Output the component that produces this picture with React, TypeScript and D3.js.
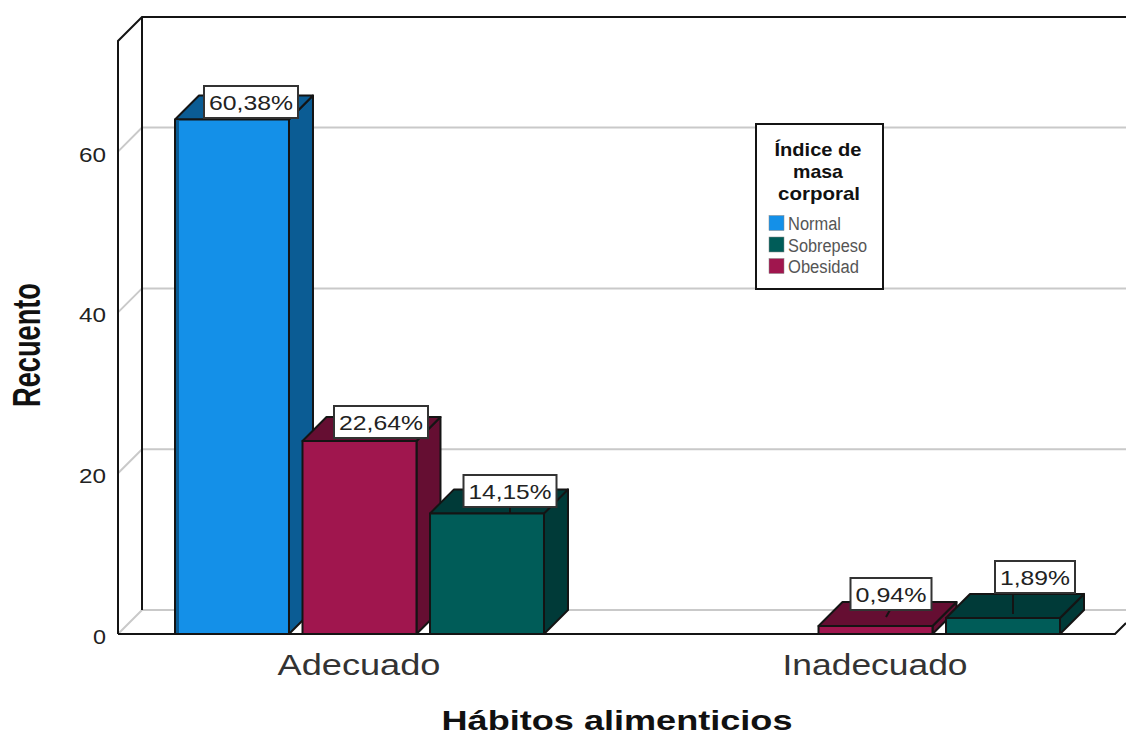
import React from "react";
import * as d3 from "d3";

const categories = ["Adecuado", "Inadecuado"];
const seriesOrder = ["Normal", "Obesidad", "Sobrepeso"];
const legendOrder = ["Normal", "Sobrepeso", "Obesidad"];
const adecuadoCounts = [64, 24, 15];
const inadecuadoCounts = [0, 1, 2];
const adecuadoLabels = ["60,38%", "22,64%", "14,15%"];
const inadecuadoLabels = ["", "0,94%", "1,89%"];
const yTicks = [0, 20, 40, 60];

const WIDTH = 1126;
const HEIGHT = 736;
const FLOOR_Y = 634;
const DEPTH = 24;
const LEFT = 118;
const TOP_BACK = 17;

const palette: Record<string, { front: string; dark: string }> = {
  Normal: { front: "#1490e8", dark: "#0b5c94" },
  Obesidad: { front: "#a0164e", dark: "#650e32" },
  Sobrepeso: { front: "#005c58", dark: "#003a38" },
};

// Value labels sit where they were dragged to, so each has its own anchor
// (box centre and top edge) and the point its leader line runs to.
const labelLayout: Record<string, { cx: number; top: number; w: number; leader?: [number, number, number, number] }> = {
  "60,38%": { cx: 251, top: 86, w: 94 },
  "22,64%": { cx: 381, top: 406, w: 94 },
  "14,15%": { cx: 510, top: 475, w: 93, leader: [510, 507, 510, 513] },
  "0,94%": { cx: 891, top: 578, w: 81, leader: [890, 610, 886, 617] },
  "1,89%": { cx: 1035, top: 561, w: 80, leader: [1013, 594, 1013, 614] },
};

const y = d3.scaleLinear().domain([0, 60]).range([FLOOR_Y, FLOOR_Y - 60 * 8.04]);
const xGroup = d3.scaleBand<string>().domain(categories).range([175, 1060]).paddingInner(0.2849).paddingOuter(0);
const xSeries = d3.scaleBand<string>().domain(seriesOrder).range([0, xGroup.bandwidth()]).paddingInner(0.106).paddingOuter(0);

const INK = "#141414";

function Bar({ x, w, value, name }: { x: number; w: number; value: number; name: string }) {
  const top = y(value);
  const c = palette[name];
  const topFace = d3.line()([[x, top], [x + DEPTH, top - DEPTH], [x + w + DEPTH, top - DEPTH], [x + w, top]]) + "Z";
  const sideFace = d3.line()([[x + w, top], [x + w + DEPTH, top - DEPTH], [x + w + DEPTH, FLOOR_Y - DEPTH], [x + w, FLOOR_Y]]) + "Z";
  return (
    <g stroke={INK} strokeWidth={2} strokeLinejoin="round">
      <path d={sideFace} fill={c.dark} />
      <path d={topFace} fill={c.dark} />
      <rect x={x} y={top} width={w} height={FLOOR_Y - top} fill={c.front} />
      {name === "Normal" && <rect x={x + 1} y={top + 1} width={3} height={FLOOR_Y - top - 2} fill={c.dark} stroke="none" />}
    </g>
  );
}

function ValueLabel({ text }: { text: string }) {
  const l = labelLayout[text];
  return (
    <g>
      {l.leader && <line x1={l.leader[0]} y1={l.leader[1]} x2={l.leader[2]} y2={l.leader[3]} stroke={INK} strokeWidth={2} />}
      <rect x={l.cx - l.w / 2} y={l.top} width={l.w} height={32} fill="#fff" stroke="#333" strokeWidth={2} />
      <text
        x={l.cx}
        y={l.top + 24}
        textAnchor="middle"
        fontSize={21}
        fill="#222"
        textLength={l.w - 10}
        lengthAdjust="spacingAndGlyphs"
      >
        {text}
      </text>
    </g>
  );
}

export default function App() {
  const backRight = WIDTH;
  const groups = [
    { cat: categories[0], counts: adecuadoCounts, labels: adecuadoLabels },
    { cat: categories[1], counts: inadecuadoCounts, labels: inadecuadoLabels },
  ];
  return (
    <svg
      width={WIDTH}
      height={HEIGHT}
      viewBox={`0 0 ${WIDTH} ${HEIGHT}`}
      style={{ position: "absolute", left: 0, top: 0, background: "#fff", fontFamily: "'Liberation Sans', Arial, sans-serif" }}
    >
      {/* Back wall and side wall gridlines */}
      {yTicks.map((v) => (
        <path key={v} d={`M${LEFT},${y(v)}L${LEFT + DEPTH},${y(v) - DEPTH}H${backRight}`} stroke="#c9c9c9" strokeWidth={2} fill="none" />
      ))}

      {/* Wall outlines */}
      <g stroke={INK} strokeWidth={2} fill="none">
        <path d={`M${LEFT},${FLOOR_Y}V${TOP_BACK + DEPTH}L${LEFT + DEPTH},${TOP_BACK}H${backRight}`} />
        <path d={`M${LEFT + DEPTH},${TOP_BACK}V${FLOOR_Y - DEPTH}`} />
        <path d={`M${LEFT},${FLOOR_Y}H1115L${backRight},${FLOOR_Y - 11}`} />
      </g>

      {/* 3-D bars */}
      {groups.map((g) =>
        seriesOrder.map((name, i) =>
          g.counts[i] > 0 ? (
            <Bar
              key={g.cat + name}
              x={(xGroup(g.cat) as number) + (xSeries(name) as number)}
              w={xSeries.bandwidth()}
              value={g.counts[i]}
              name={name}
            />
          ) : null
        )
      )}

      {/* Value labels */}
      {groups.map((g) => g.labels.filter(Boolean).map((t) => <ValueLabel key={t} text={t} />))}

      {/* Y axis tick labels */}
      {yTicks.map((v) => (
        <text
          key={v}
          x={106}
          y={y(v) + 10}
          textAnchor="end"
          fontSize={21}
          fill="#222"
          textLength={v === 0 ? 13 : 27}
          lengthAdjust="spacingAndGlyphs"
        >
          {v}
        </text>
      ))}

      {/* Category labels */}
      {categories.map((c, i) => (
        <text
          key={c}
          x={i === 0 ? 359 : 875}
          y={675}
          textAnchor="middle"
          fontSize={30}
          fill="#333"
          textLength={i === 0 ? 163 : 185}
          lengthAdjust="spacingAndGlyphs"
        >
          {c}
        </text>
      ))}

      {/* Axis titles */}
      <text x={617} y={730} textAnchor="middle" fontSize={28} fontWeight="bold" fill="#111" textLength={351} lengthAdjust="spacingAndGlyphs">
        Hábitos alimenticios
      </text>
      <text
        transform="translate(40,345) rotate(-90)"
        textAnchor="middle"
        fontSize={39}
        fontWeight="bold"
        fill="#111"
        textLength={124}
        lengthAdjust="spacingAndGlyphs"
      >
        Recuento
      </text>

      {/* Legend */}
      <rect x={756} y={124} width={127} height={165} fill="#fff" stroke={INK} strokeWidth={2} />
      <g textAnchor="middle" fontSize={19} fontWeight="bold" fill="#111">
        <text x={818} y={156} textLength={87} lengthAdjust="spacingAndGlyphs">Índice de</text>
        <text x={818} y={178} textLength={50} lengthAdjust="spacingAndGlyphs">masa</text>
        <text x={819} y={200} textLength={82} lengthAdjust="spacingAndGlyphs">corporal</text>
      </g>
      {legendOrder.map((name, i) => (
        <g key={name}>
          <rect x={769} y={215.5 + i * 21.5} width={15} height={15} fill={palette[name].front} stroke="#888" strokeWidth={0.5} />
          <text
            x={788}
            y={230 + i * 21.6}
            fontSize={18}
            fill="#555"
            textLength={[53, 79, 71][i]}
            lengthAdjust="spacingAndGlyphs"
          >
            {name}
          </text>
        </g>
      ))}
    </svg>
  );
}
